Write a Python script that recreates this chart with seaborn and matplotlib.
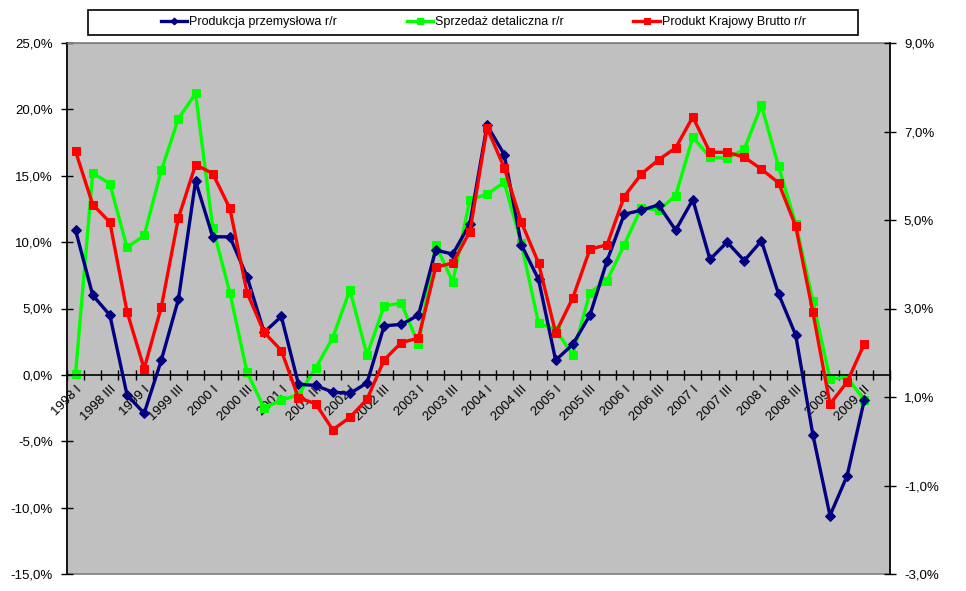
import numpy as np
import pandas as pd
import matplotlib
matplotlib.use("Agg")
import matplotlib.pyplot as plt
from matplotlib.patches import Rectangle
from matplotlib.ticker import FuncFormatter, FixedLocator
import seaborn as sns

plt.rcParams['font.family'] = ['Liberation Sans', 'DejaVu Sans']

# ---- data ----
years = list(range(1998, 2010))
quarter_names = ["I", "II", "III", "IV"]
categories = [f"{y} {q}" for y in years for q in quarter_names][:47]

produkcja = [10.9, 6.0, 4.5, -1.5, -2.9, 1.1, 5.7, 14.6, 10.4, 10.4, 7.4, 3.2,
             4.4, -0.7, -0.8, -1.3, -1.4, -0.6, 3.7, 3.8, 4.5, 9.4, 9.1, 11.4,
             18.8, 16.6, 9.8, 7.2, 1.1, 2.3, 4.5, 8.6, 12.1, 12.4, 12.8, 10.9,
             13.2, 8.7, 10.0, 8.6, 10.1, 6.1, 3.0, -4.5, -10.6, -7.6, -1.9]
sprzedaz = [0.1, 15.2, 14.4, 9.6, 10.5, 15.4, 19.3, 21.2, 11.1, 6.2, 0.2, -2.5,
            -1.9, -1.5, 0.5, 2.8, 6.4, 1.5, 5.2, 5.4, 2.3, 9.8, 7.0, 13.2,
            13.6, 14.5, 9.9, 3.9, 3.4, 1.5, 6.2, 7.1, 9.8, 12.6, 12.4, 13.5,
            17.9, 16.4, 16.3, 17.0, 20.3, 15.7, 11.4, 5.6, -0.3, -0.2, -1.9]
pkb = [6.55, 5.35, 4.95, 2.93, 1.64, 3.03, 5.05, 6.25, 6.05, 5.26, 3.36, 2.46,
       2.05, 0.98, 0.85, 0.26, 0.54, 0.95, 1.84, 2.23, 2.33, 3.93, 4.03, 4.74,
       7.08, 6.18, 4.95, 4.03, 2.45, 3.24, 4.34, 4.44, 5.53, 6.04, 6.36, 6.63,
       7.33, 6.53, 6.53, 6.42, 6.15, 5.84, 4.86, 2.92, 0.84, 1.34, 2.20]

labels_series = ["Produkcja przemysłowa r/r", "Sprzedaż detaliczna r/r",
                 "Produkt Krajowy Brutto r/r"]
left_ticks = [-15, -10, -5, 0, 5, 10, 15, 20, 25]
right_ticks = [-3, -1, 1, 3, 5, 7, 9]

n_slots = 48  # axis has room for 2009 IV
df = pd.DataFrame({"idx": np.arange(len(categories)), "cat": categories,
                   "prod": produkcja, "sprz": sprzedaz, "pkb": pkb})

# ---- figure ----
fig = plt.figure(figsize=(9.66, 5.91), dpi=100)
fig.patch.set_facecolor("white")
ax = fig.add_axes([67/966, 1-574/591, (890-67)/966, (574-43)/591])
ax.set_facecolor("#C0C0C0")
ax2 = ax.twinx()

lw = 2.4
sns.lineplot(data=df, x="idx", y="prod", ax=ax, color="#000080", marker="D",
             markersize=5, markeredgecolor="#000080", linewidth=lw,
             label=labels_series[0], zorder=3)
sns.lineplot(data=df, x="idx", y="sprz", ax=ax, color="#00FF00", marker="s",
             markersize=5.5, markeredgecolor="#00FF00", linewidth=lw,
             label=labels_series[1], zorder=2)
sns.lineplot(data=df, x="idx", y="pkb", ax=ax2, color="#FF0000", marker="s",
             markersize=5.5, markeredgecolor="#FF0000", linewidth=lw,
             label=labels_series[2], zorder=4)

pct = FuncFormatter(lambda v, p: f"{v:.1f}%".replace(".", ","))

ax.set_xlim(-0.5, n_slots - 0.5)
ax.set_ylim(-15, 25)
ax.set_yticks(left_ticks)
ax.yaxis.set_major_formatter(pct)
ax2.set_ylim(-3, 9)
ax2.set_yticks(right_ticks)
ax2.yaxis.set_major_formatter(pct)

# x axis at zero
ax.spines['bottom'].set_position(('data', 0))
ax.spines['bottom'].set_color("black")
ax.spines['bottom'].set_linewidth(1.2)
ax.set_xticks(np.arange(0, len(categories), 2))
ax.set_xticklabels(categories[::2], rotation=45, ha="right", va="top",
                   rotation_mode="anchor", fontsize=9.5)
ax.xaxis.set_minor_locator(FixedLocator(np.arange(-0.5, n_slots, 1.0)))
ax.tick_params(axis="x", which="major", length=0, pad=6)
ax.tick_params(axis="x", which="minor", direction="inout", length=7, width=1, color="black")
ax.set_xlabel("")
ax.set_ylabel("")
ax2.set_ylabel("")

ax.tick_params(axis="y", direction="inout", length=8, width=1, labelsize=9.5, pad=6)
ax2.tick_params(axis="y", direction="inout", length=8, width=1, labelsize=9.5, pad=6)

ax.spines['top'].set_color("#808080")
ax.spines['left'].set_color("black")
ax.spines['left'].set_linewidth(1.2)
ax.spines['right'].set_visible(False)
for s in ["top", "bottom", "left"]:
    ax2.spines[s].set_visible(False)
ax2.spines['right'].set_color("black")
ax2.spines['right'].set_linewidth(1.2)

# grey plot-area border (bottom)
ax.add_patch(Rectangle((0, 0), 1, 1, transform=ax.transAxes, fill=False,
                       edgecolor="#808080", linewidth=1.2, zorder=0.5, clip_on=False))

# legend
h1, l1 = ax.get_legend_handles_labels()
h2, l2 = ax2.get_legend_handles_labels()
ax.get_legend().remove()
ax2.get_legend().remove()
fig.patches.append(Rectangle((88/966, 1-35/591), (858-88)/966, 25/591,
                             transform=fig.transFigure, fill=False,
                             edgecolor="black", linewidth=1.2))
fig.legend(h1 + h2, l1 + l2, loc="center", bbox_to_anchor=(483/966, 1-22.5/591),
           ncol=3, frameon=False, fontsize=9, handlelength=2.1,
           handletextpad=0.15, columnspacing=5.6, markerscale=0.7)

fig.savefig("out.png", dpi=100)
